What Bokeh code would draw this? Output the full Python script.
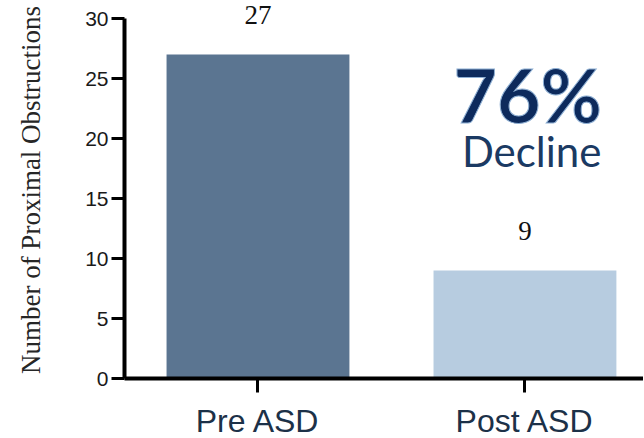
from bokeh.plotting import figure
from bokeh.models import Range1d, FixedTicker, ColumnDataSource, LabelSet, Label
from bokeh.embed import file_html
from bokeh.resources import INLINE

# ---- data ----
categories = ["Pre ASD", "Post ASD"]
counts = [27, 9]
bar_colors = ["#5b7591", "#b7cce0"]
y_ticks = [0, 5, 10, 15, 20, 25, 30]
y_max = 30
y_title = "Number of Proximal Obstructions"
headline = "76%"
subline = "Decline"

xpos = [i + 0.5 for i in range(len(categories))]
src = ColumnDataSource(dict(x=xpos, top=counts, color=bar_colors,
                            label=[str(c) for c in counts]))

px_per_unit = 12
extra_units = 17 / px_per_unit
p = figure(frame_width=519, frame_height=int(round((y_max + extra_units) * px_per_unit)),
           x_range=Range1d(0, 1.944), y_range=Range1d(0, y_max + extra_units),
           output_backend="svg", toolbar_location=None,
           min_border_left=124, min_border_right=0,
           min_border_top=1, min_border_bottom=0)
p.outline_line_color = None
p.background_fill_color = "white"
p.border_fill_color = "white"
p.xgrid.visible = False
p.ygrid.visible = False

p.vbar(x="x", top="top", width=0.685, bottom=0, color="color",
       line_color=None, source=src)

labels = LabelSet(x="x", y="top", text="label", source=src,
                  text_align="center", text_baseline="middle",
                  y_offset=40, text_font="Liberation Serif",
                  text_font_size="27px", text_color="#111111")
p.add_layout(labels)

# axes
xa = p.xaxis[0]
xa.ticker = FixedTicker(ticks=xpos)
xa.major_label_overrides = {x: c for x, c in zip(xpos, categories)}
xa.minor_tick_line_color = None
xa.axis_line_width = 4
xa.axis_line_color = "black"
xa.major_tick_line_width = 3
xa.major_tick_line_color = "black"
xa.major_tick_out = 14
xa.major_tick_in = 0
xa.major_label_standoff = 10
xa.major_label_text_font = "Liberation Sans"
xa.major_label_text_font_size = "32px"
xa.major_label_text_color = "#1c3148"

ya = p.yaxis[0]
ya.ticker = FixedTicker(ticks=y_ticks)
ya.bounds = (0, y_max)
ya.minor_tick_line_color = None
ya.axis_line_width = 4
ya.axis_line_color = "black"
ya.major_tick_line_width = 3
ya.major_tick_line_color = "black"
ya.major_tick_out = 13
ya.major_tick_in = 0
ya.major_label_standoff = 3
ya.major_label_text_font = "Liberation Sans"
ya.major_label_text_font_size = "21px"
ya.major_label_text_color = "#1a1a1a"
ya.axis_label = y_title
ya.axis_label_text_font = "Liberation Serif"
ya.axis_label_text_font_style = "normal"
ya.axis_label_text_font_size = "27px"
ya.axis_label_text_color = "#262626"
ya.axis_label_standoff = 36

# annotation text
p.add_layout(Label(x=1.51, y=23.7, text=headline, text_align="center",
                   text_baseline="middle", text_font="Lato",
                   text_font_style="bold", text_font_size="75px",
                   text_color="#0d2a5c", text_outline_color="#8fb0d4"))
p.add_layout(Label(x=1.525, y=19.0, text=subline, text_align="center",
                   text_baseline="middle", text_font="Lato",
                   text_font_size="42px", text_color="#1b3a63"))

open("out.html", "w").write(file_html(p, INLINE))
